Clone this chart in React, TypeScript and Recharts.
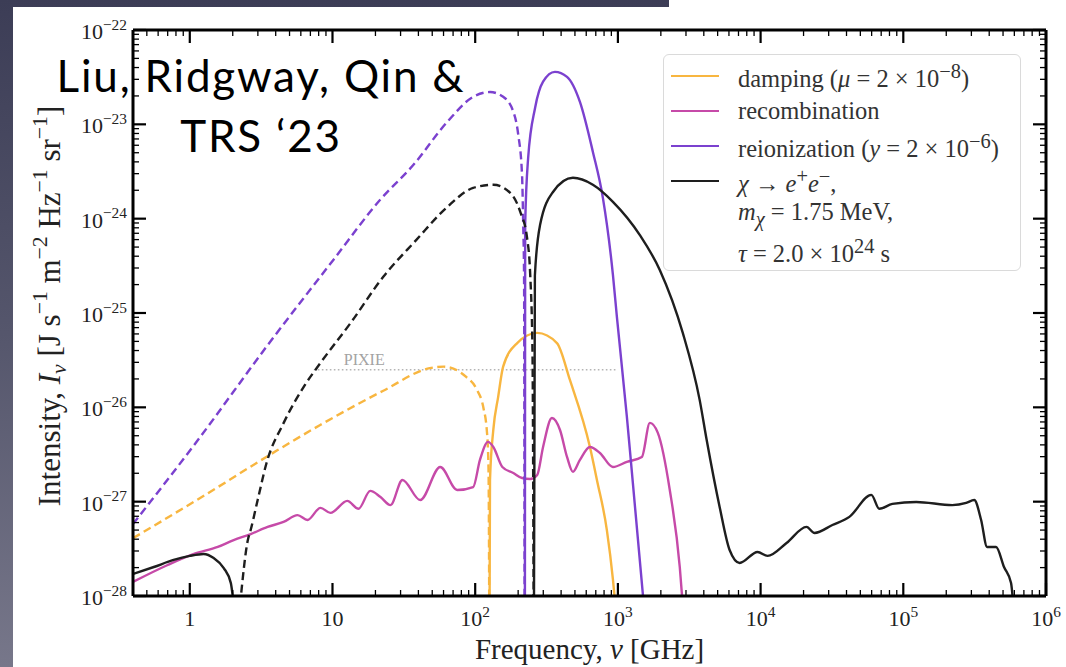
import { LineChart, Line, XAxis, YAxis, ReferenceLine, Legend } from "recharts";

// frequency nu [GHz], intensity I [J s^-1 m^-2 Hz^-1 sr^-1]
type Pt = [number, number];

const DAMPING_NEG: Pt[] = [
  [0.4, 4.1e-28], [1.19, 1.1e-27], [4.1, 3.5e-27], [8.2, 6.5e-27], [22.7, 1.5e-26],
  [48, 2.6e-26], [60, 2.7e-26], [86.5, 2.1e-26], [103, 1.53e-26], [114, 1.0e-26],
  [121, 5.4e-27], [124, 2.2e-27], [125, 3.1e-28], [125.5, 5e-29],
];
const DAMPING_POS: Pt[] = [
  [126, 5e-29], [127, 1.7e-27], [134, 5.8e-27], [145, 1.3e-26], [157, 2.7e-26],
  [197, 4.8e-26], [272, 6.15e-26], [374, 4.8e-26], [461, 1.95e-26], [637, 3.8e-27],
  [713, 1.7e-27], [837, 5e-28], [923, 1.5e-28], [960, 8e-29],
];
const RECOMB: Pt[] = [
  [0.4, 1.41e-28], [0.7, 2.13e-28], [1.07, 2.79e-28], [1.57, 3.31e-28], [2.03, 3.92e-28],
  [2.67, 4.54e-28], [3.51, 5.39e-28], [4.54, 6.1e-28], [5.69, 7.2e-28], [6.68, 6.4e-28],
  [8.24, 8.6e-28], [9.68, 7.6e-28], [12.7, 1.02e-27], [15.2, 8.4e-28], [18.4, 1.3e-27],
  [21.7, 1.12e-27], [25.5, 9.2e-28], [30.9, 1.7e-27], [41.2, 1.04e-27], [56.9, 2.33e-27],
  [74.8, 1.33e-27], [96.8, 1.43e-27], [108, 2.77e-27], [123, 4.3e-27], [134, 3.8e-27],
  [155, 2.33e-27], [185, 2.01e-27], [213, 1.78e-27], [243, 1.74e-27], [272, 1.92e-27],
  [299, 3.8e-27], [345, 7.7e-27], [393, 5.75e-27], [440, 2.98e-27], [484, 2.07e-27],
  [542, 2.77e-27], [637, 3.8e-27], [748, 3.28e-27], [923, 2.33e-27], [1156, 2.64e-27],
  [1472, 2.98e-27], [1675, 6.84e-27], [1905, 5.36e-27], [2310, 1.33e-27], [2714, 2.03e-28],
  [2849, 8e-29],
];
const REION_NEG: Pt[] = [
  [0.4, 5.8e-28], [1.14, 4.5e-27], [3.45, 4.4e-26], [10.2, 3.7e-25], [21.7, 1.6e-24],
  [36.8, 3.7e-24], [63.7, 1.06e-23], [96.8, 1.96e-23], [127, 2.2e-23], [157, 1.96e-23],
  [185, 1.36e-23], [200, 7.9e-24], [213, 2.9e-24], [217, 8.6e-25], [220, 2.5e-25],
  [222, 5e-29],
];
const REION_POS: Pt[] = [
  [223, 5e-29], [224, 8.6e-25], [235, 4.4e-24], [263, 1.5e-23], [299, 2.83e-23],
  [362, 3.6e-23], [440, 3.19e-23], [542, 1.73e-23], [668, 5.1e-24], [785, 1.66e-24],
  [923, 2.54e-25], [984, 9.1e-26], [1156, 7.9e-27], [1273, 1.58e-27], [1520, 8e-29],
];
const DECAY_NEG: Pt[] = [
  [2.25, 8e-29], [2.55, 3.9e-28], [2.67, 5.0e-28], [2.99, 1.04e-27], [3.45, 2.57e-27],
  [4.54, 6.8e-27], [6.27, 1.64e-26], [8.24, 2.96e-26], [13.4, 7.85e-26], [22.7, 2.42e-25],
  [38.7, 5.96e-25], [63.7, 1.33e-24], [96.8, 2.12e-24], [134, 2.29e-24], [176, 1.88e-24],
  [207, 1.18e-24], [231, 6.25e-25], [243, 2.54e-25], [252, 4e-26], [257, 5e-29],
];
const DECAY_LOW: Pt[] = [
  [0.4, 1.71e-28], [0.56, 2.03e-28], [0.77, 2.41e-28], [1.0, 2.66e-28], [1.25, 2.79e-28],
  [1.47, 2.53e-28], [1.73, 1.98e-28], [1.94, 1.37e-28], [2.03, 8e-29],
];
const DECAY_POS: Pt[] = [
  [258, 5e-29], [262, 2.5e-25], [285, 8.6e-25], [351, 1.92e-24], [484, 2.71e-24],
  [668, 2.29e-24], [923, 1.51e-24], [1426, 6.7e-25], [1966, 2.86e-25], [2849, 6.15e-26],
  [3741, 1.2e-26], [4190, 4.5e-27], [5164, 8.8e-28], [6067, 3.07e-28], [7130, 2.24e-28],
  [9530, 2.93e-28], [11190, 2.66e-28], [15200, 3.65e-28], [20980, 5.4e-28], [23870, 4.66e-28],
  [31860, 5.66e-28], [41880, 6.9e-28], [59700, 1.18e-27], [67900, 8.4e-28], [83800, 9.46e-28],
  [123300, 9.93e-28], [220300, 9.2e-28], [276000, 9.7e-28], [314000, 1.04e-27], [351000, 6.4e-28],
  [386500, 3.31e-28], [446700, 3.31e-28], [508000, 2.03e-28], [569000, 1.37e-28], [590000, 8e-29],
];

const PIXIE_LEVEL = 2.5e-26;
const PIXIE_RANGE = [7.4, 985];

const X_DECADES = [0.1, 1, 10, 1e2, 1e3, 1e4, 1e5, 1e6];
const Y_DECADES = [1e-28, 1e-27, 1e-26, 1e-25, 1e-24, 1e-23, 1e-22];
const X_DOMAIN = [0.4, 1e6];
const Y_DOMAIN = [1e-28, 1e-22];

const ORANGE = "#f8b640";
const MAGENTA = "#c64aa8";
const PURPLE = "#7b41cf";
const BLACK = "#1e1e1e";
const SERIF = "'Liberation Serif', 'DejaVu Serif', serif";

const toRows = (pts: Pt[]) => pts.map(([nu, I]) => ({ nu, I }));

const SERIES = [
  { key: "dampNeg", data: DAMPING_NEG, color: ORANGE, dashed: true },
  { key: "dampPos", data: DAMPING_POS, color: ORANGE, dashed: false },
  { key: "recomb", data: RECOMB, color: MAGENTA, dashed: false },
  { key: "reionNeg", data: REION_NEG, color: PURPLE, dashed: true },
  { key: "reionPos", data: REION_POS, color: PURPLE, dashed: false },
  { key: "decayLow", data: DECAY_LOW, color: BLACK, dashed: false },
  { key: "decayNeg", data: DECAY_NEG, color: BLACK, dashed: true },
  { key: "decayPos", data: DECAY_POS, color: BLACK, dashed: false },
];

// major decades plus 2..9 minors, trimmed to the domain
function logTicks(decades: number[], lo: number, hi: number) {
  const out: number[] = [];
  decades.forEach((d) => {
    for (let k = 1; k <= 9; k++) {
      const v = Number((k * d).toPrecision(3));
      if (v >= lo * 0.999 && v <= hi * 1.001) out.push(v);
    }
  });
  return out;
}
const X_TICKS = logTicks(X_DECADES, X_DOMAIN[0], X_DOMAIN[1]);
const Y_TICKS = logTicks(Y_DECADES, Y_DOMAIN[0], Y_DOMAIN[1]);

const isMajor = (v: number) => {
  const l = Math.log10(v);
  return Math.abs(l - Math.round(l)) < 1e-6;
};
const expOf = (v: number) => Math.round(Math.log10(v));
const fmtExp = (e: number) => (e < 0 ? "\u2212" + Math.abs(e) : String(e));

type Seg = { t: string; it?: boolean; sup?: boolean; sub?: boolean };

function spans(segs: Seg[], size: number) {
  let shift = 0;
  return segs.map((s, i) => {
    const target = s.sup ? -size * 0.42 : s.sub ? size * 0.2 : 0;
    const dy = target - shift;
    shift = target;
    return (
      <tspan
        key={i}
        dy={dy}
        fontSize={s.sup || s.sub ? size * 0.7 : size}
        fontStyle={s.it ? "italic" : "normal"}
      >
        {s.t}
      </tspan>
    );
  });
}

const decadeLabel = (v: number): Seg[] => {
  if (v === 1) return [{ t: "1" }];
  if (v === 10) return [{ t: "10" }];
  return [{ t: "10" }, { t: fmtExp(expOf(v)), sup: true }];
};

const MAJOR_LEN = 13;
const MINOR_LEN = 6;

function BottomTick(props: any) {
  const { x, y, payload } = props;
  const major = isMajor(payload.value);
  return (
    <g>
      <line x1={x} x2={x} y1={y} y2={y - (major ? MAJOR_LEN : MINOR_LEN)} stroke="#000" strokeWidth={major ? 2.2 : 1.3} />
      {major && (
        <text x={x} y={y + 30} textAnchor="middle" fill="#222" fontFamily={SERIF} style={{ whiteSpace: "pre" }}>
          {spans(decadeLabel(payload.value), 22)}
        </text>
      )}
    </g>
  );
}

function TopTick(props: any) {
  const { x, y, payload } = props;
  const major = isMajor(payload.value);
  return <line x1={x} x2={x} y1={y} y2={y + (major ? MAJOR_LEN : MINOR_LEN)} stroke="#000" strokeWidth={major ? 2.2 : 1.3} />;
}

function LeftTick(props: any) {
  const { x, y, payload } = props;
  const major = isMajor(payload.value);
  return (
    <g>
      <line x1={x} x2={x + (major ? MAJOR_LEN : MINOR_LEN)} y1={y} y2={y} stroke="#000" strokeWidth={major ? 2.2 : 1.3} />
      {major && (
        <text x={x - 6} y={y + 9} textAnchor="end" fill="#222" fontFamily={SERIF} style={{ whiteSpace: "pre" }}>
          {spans([{ t: "10" }, { t: fmtExp(expOf(payload.value)), sup: true }], 22)}
        </text>
      )}
    </g>
  );
}

function RightTick(props: any) {
  const { x, y, payload } = props;
  const major = isMajor(payload.value);
  return <line x1={x} x2={x - (major ? MAJOR_LEN : MINOR_LEN)} y1={y} y2={y} stroke="#000" strokeWidth={major ? 2.2 : 1.3} />;
}

const Y_TITLE: Seg[] = [
  { t: "Intensity, " }, { t: "I", it: true }, { t: "\u03bd", sub: true, it: true },
  { t: " [J s" }, { t: "\u22121", sup: true }, { t: " m" }, { t: "\u22122", sup: true },
  { t: " Hz" }, { t: "\u22121", sup: true }, { t: " sr" }, { t: "\u22121", sup: true }, { t: "]" },
];
const X_TITLE: Seg[] = [{ t: "Frequency, " }, { t: "\u03bd", it: true }, { t: " [GHz]" }];

function YTitle(props: any) {
  const { x, y, height } = props.viewBox;
  const cx = x + 60;
  const cy = y + height / 2 - 7;
  return (
    <text transform={`translate(${cx},${cy}) rotate(-90)`} textAnchor="middle" fill="#222" fontFamily={SERIF} style={{ whiteSpace: "pre" }}>
      {spans(Y_TITLE, 31)}
    </text>
  );
}

function XTitle(props: any) {
  const { x, y, width } = props.viewBox;
  return (
    <text x={x + width / 2} y={y + 63} textAnchor="middle" fill="#222" fontFamily={SERIF} style={{ whiteSpace: "pre" }}>
      {spans(X_TITLE, 29)}
    </text>
  );
}

function PixieLabel(props: any) {
  const { x, y } = props.viewBox;
  return (
    <text x={x + 30} y={y - 5} fill="#a3a3a3" fontFamily={SERIF} fontSize={16}>
      PIXIE
    </text>
  );
}

const LEGEND_ROWS = [
  { color: ORANGE, label: <>damping (<i>μ</i> = 2 × 10<sup>−8</sup>)</> },
  { color: MAGENTA, label: <>recombination</> },
  { color: PURPLE, label: <>reionization (<i>y</i> = 2 × 10<sup>−6</sup>)</> },
  { color: BLACK, label: <><i>χ</i> → <i>e</i><sup>+</sup><i>e</i><sup>−</sup>,</> },
  { color: null, label: <><i>m</i><sub><i>χ</i></sub> = 1.75 MeV,</> },
  { color: null, label: <><i>τ</i> = 2.0 × 10<sup>24</sup> s</> },
];

function LegendBox() {
  return (
    <div
      style={{
        width: 358,
        height: 217,
        boxSizing: "border-box",
        border: "1.5px solid #dadada",
        borderRadius: 6,
        background: "rgba(255,255,255,0.85)",
        paddingTop: 3,
        fontFamily: SERIF,
        fontSize: 24.5,
        color: "#333",
      }}
    >
      {LEGEND_ROWS.map((r, i) => (
        <div key={i} style={{ height: 35, display: "flex", alignItems: "center", whiteSpace: "nowrap" }}>
          <div style={{ width: 48, marginLeft: 7, borderTop: r.color ? `2.5px solid ${r.color}` : "none" }} />
          <div style={{ marginLeft: 19, lineHeight: "35px" }}>{r.label}</div>
        </div>
      ))}
    </div>
  );
}

const axisLine = { stroke: "#000", strokeWidth: 3 };

export default function App() {
  return (
    <div
      style={{
        position: "fixed",
        left: 0,
        top: 0,
        width: 1066,
        height: 667,
        overflow: "hidden",
        background: "linear-gradient(to bottom, #3c3d56 0%, #55566c 50%, #77778a 100%)",
      }}
    >
      <div style={{ position: "absolute", left: 13, top: 7, width: 1053, height: 660, background: "#fff" }} />
      <div style={{ position: "absolute", left: 669, top: 0, width: 397, height: 7, background: "#fff" }} />
      <div style={{ position: "absolute", left: 0, top: 0 }}>
        <LineChart width={1066} height={667} margin={{ top: 29, right: 19, bottom: 0, left: 0 }}>
          <XAxis
            xAxisId="b"
            dataKey="nu"
            type="number"
            scale="log"
            domain={X_DOMAIN}
            allowDataOverflow
            ticks={X_TICKS}
            interval={0}
            tick={BottomTick}
            tickLine={false}
            tickSize={0}
            tickMargin={0}
            height={71}
            axisLine={axisLine}
            label={XTitle}
          />
          <XAxis
            xAxisId="t"
            orientation="top"
            dataKey="nu"
            type="number"
            scale="log"
            domain={X_DOMAIN}
            allowDataOverflow
            ticks={X_TICKS}
            interval={0}
            tick={TopTick}
            tickLine={false}
            tickSize={0}
            tickMargin={0}
            height={1}
            axisLine={axisLine}
          />
          <YAxis
            yAxisId="l"
            type="number"
            scale="log"
            domain={Y_DOMAIN}
            allowDataOverflow
            ticks={Y_TICKS}
            interval={0}
            tick={LeftTick}
            tickLine={false}
            tickSize={0}
            tickMargin={0}
            width={133}
            axisLine={axisLine}
            label={YTitle}
          />
          <YAxis
            yAxisId="r"
            orientation="right"
            type="number"
            scale="log"
            domain={Y_DOMAIN}
            allowDataOverflow
            ticks={Y_TICKS}
            interval={0}
            tick={RightTick}
            tickLine={false}
            tickSize={0}
            tickMargin={0}
            width={1}
            axisLine={axisLine}
          />
          <ReferenceLine
            xAxisId="b"
            yAxisId="l"
            segment={[
              { x: PIXIE_RANGE[0], y: PIXIE_LEVEL },
              { x: PIXIE_RANGE[1], y: PIXIE_LEVEL },
            ]}
            stroke="#b5b5b5"
            strokeWidth={1.6}
            strokeDasharray="1.6 2.4"
            label={PixieLabel}
          />
          {SERIES.map((s) => (
            <Line
              key={s.key}
              xAxisId="b"
              yAxisId="l"
              data={toRows(s.data)}
              dataKey="I"
              type="monotone"
              stroke={s.color}
              strokeWidth={2.4}
              strokeDasharray={s.dashed ? "8 4.5" : undefined}
              dot={false}
              activeDot={false}
              isAnimationActive={false}
            />
          ))}
          <Legend
            content={LegendBox}
            layout="vertical"
            align="center"
            verticalAlign="middle"
            wrapperStyle={{ left: 663, top: 54, width: 358, height: 217 }}
          />
        </LineChart>
      </div>
      <div
        style={{
          position: "absolute",
          left: 11,
          top: 45,
          width: 500,
          textAlign: "center",
          fontFamily: "Lato, 'Open Sans', sans-serif",
          fontSize: 44,
          letterSpacing: 1.8,
          lineHeight: "60px",
          color: "#000",
        }}
      >
        Liu, Ridgway, Qin &amp;
        <br />
        TRS ‘23
      </div>
    </div>
  );
}
